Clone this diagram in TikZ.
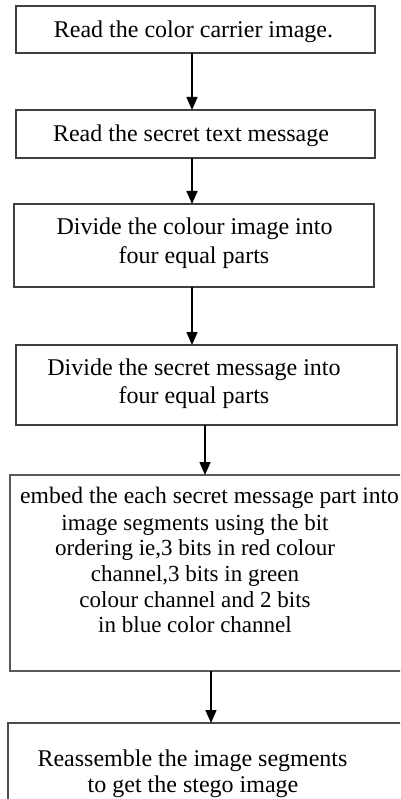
\documentclass[tikz,border=0pt]{standalone}
\usepackage{fontspec}
\setmainfont{Liberation Serif}
\usetikzlibrary{arrows.meta}
\begin{document}
\begin{tikzpicture}[x=1pt,y=-1pt,
  box/.style={draw=black!75, line width=1.5pt, rectangle, inner sep=0pt, outer sep=0pt, anchor=north west},
  txt/.style={font=\fontsize{24}{28}\selectfont, inner sep=0pt, anchor=base},
  txtb/.style={font=\fontsize{23}{26}\selectfont, inner sep=0pt, anchor=base},
  arr/.style={draw=black, line width=1.5pt, -{Triangle[width=11pt,length=13pt]}}]
\useasboundingbox (0,0) rectangle (400,799);
\clip (0,0) rectangle (400,799);
% boxes
\node[box, minimum width=359pt, minimum height=47pt] (b1) at (16,6) {};
\node[box, minimum width=359pt, minimum height=48pt] (b2) at (16,110) {};
\node[box, minimum width=360pt, minimum height=83pt] (b3) at (14,204) {};
\node[box, minimum width=381pt, minimum height=80pt] (b4) at (16,345) {};
\node[box, draw=black!65, line width=2.5pt, minimum width=402pt, minimum height=196pt] (b5) at (10,475) {};
\node[box, draw=black!70, line width=2pt, minimum width=404pt, minimum height=107pt] (b6) at (8,723) {};
% texts
\node[txt] (t1) at (193.5,37.7) {Read the color carrier image.};
\node[txt] (t2) at (191,141.7) {Read the secret text message};
\node[txt] (t3a) at (194.5,235) {Divide the colour image into};
\node[txt] (t3b) at (194,263.5) {four equal parts};
\node[txt] (t4a) at (194,375) {Divide the secret message into};
\node[txt] (t4b) at (194,403.3) {four equal parts};
\node[txtb, font=\fontsize{23.6}{26}\selectfont, anchor=base west] (t5a) at (20,503) {embed the each secret message part into};
\node[txtb] (t5b) at (195,530) {image segments using the bit};
\node[txtb] (t5c) at (195,555.5) {ordering ie,3 bits in red colour};
\node[txtb] (t5d) at (195,581) {channel,3 bits in green};
\node[txtb] (t5e) at (195,607) {colour channel and 2 bits};
\node[txtb] (t5f) at (195,632) {in blue color channel};
\node[txt] (t6a) at (192.5,766) {Reassemble the image segments};
\node[txt] (t6b) at (193,792.7) {to get the stego image};
% arrows
\draw[arr] (b1.south -| 192,0) -- (b2.north -| 192,0);
\draw[arr] (b2.south -| 192,0) -- (b3.north -| 192,0);
\draw[arr] (b3.south -| 192,0) -- (b4.north -| 192,0);
\draw[arr] (b4.south -| 205,0) -- (b5.north -| 205,0);
\draw[arr] (b5.south -| 211,0) -- (b6.north -| 211,0);
\end{tikzpicture}
\end{document}
